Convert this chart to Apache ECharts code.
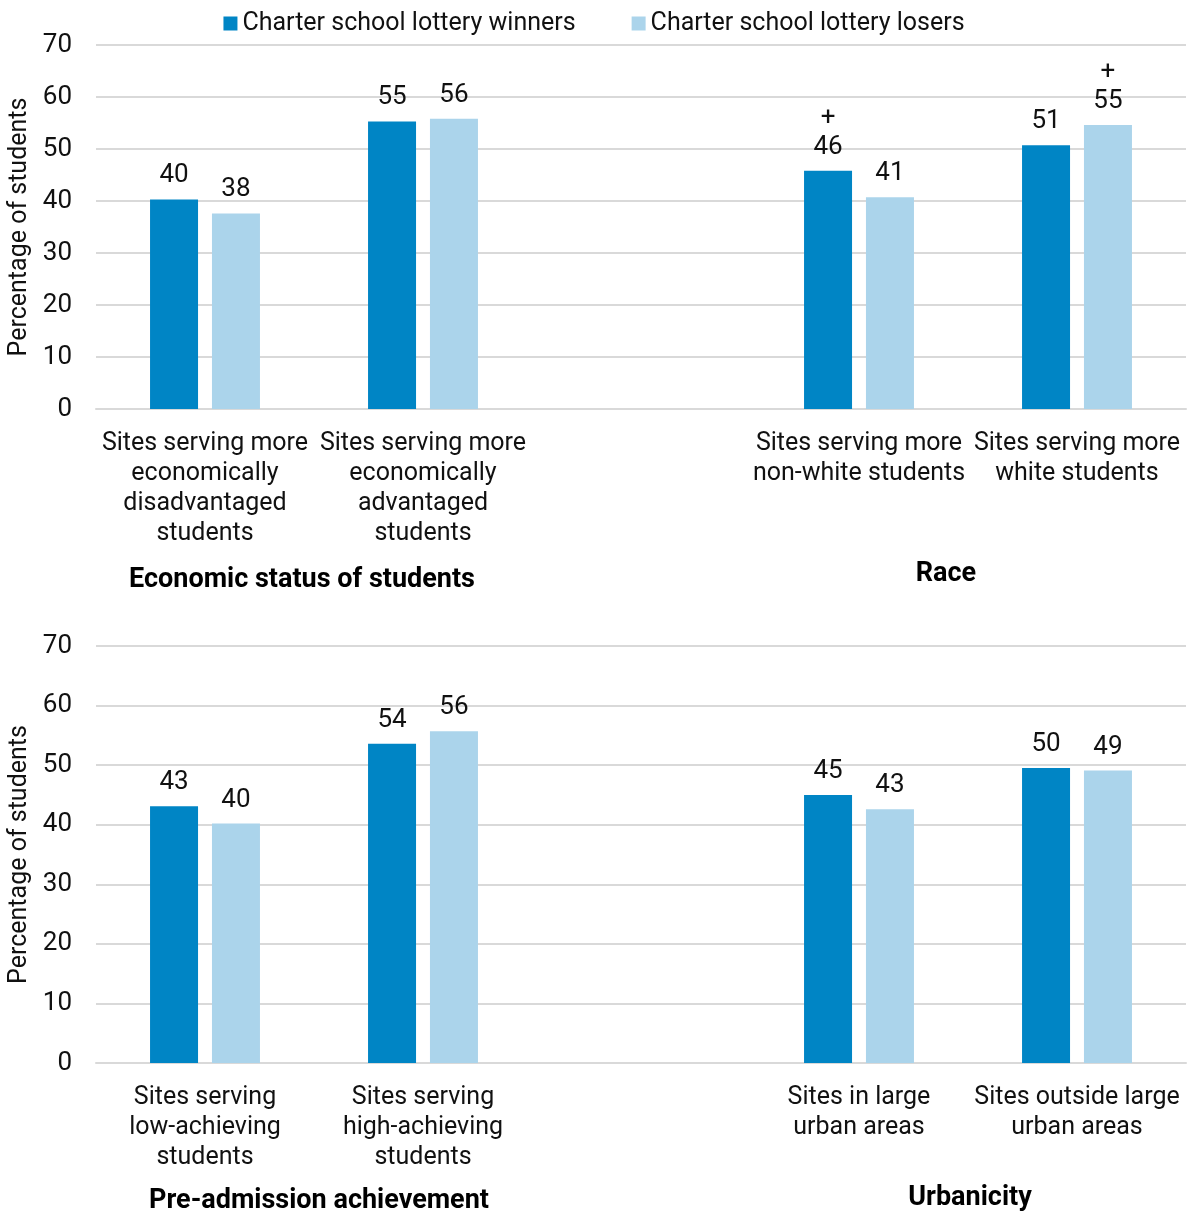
<!DOCTYPE html>
<html>
<head>
<meta charset="utf-8">
<script src="https://cdn.jsdelivr.net/npm/echarts@6/dist/echarts.min.js"></script>
<style>
html,body{margin:0;padding:0;background:#fff;}
#chart{width:1188px;height:1213px;}
</style>
</head>
<body>
<div id="chart"></div>
<script>
// ---- data ----
var seriesNames = ['Charter school lottery winners', 'Charter school lottery losers'];
var topCategories = [
  'Sites serving more\neconomically\ndisadvantaged\nstudents',
  'Sites serving more\neconomically\nadvantaged\nstudents',
  '',
  'Sites serving more\nnon-white students',
  'Sites serving more\nwhite students'
];
var topWinners = [40.3, 55.3, null, 45.8, 50.7];
var topLosers  = [37.6, 55.8, null, 40.7, 54.6];
var topWinnersLabels = ['40', '55', '', '46', '51'];
var topLosersLabels  = ['38', '56', '', '41', '55'];
var topWinnersSig = [false, false, false, true, false];
var topLosersSig  = [false, false, false, false, true];

var bottomCategories = [
  'Sites serving\nlow-achieving\nstudents',
  'Sites serving\nhigh-achieving\nstudents',
  '',
  'Sites in large\nurban areas',
  'Sites outside large\nurban areas'
];
var bottomWinners = [43.1, 53.6, null, 45.0, 49.5];
var bottomLosers  = [40.2, 55.7, null, 42.6, 49.1];
var bottomWinnersLabels = ['43', '54', '', '45', '50'];
var bottomLosersLabels  = ['40', '56', '', '43', '49'];
var bottomWinnersSig = [false, false, false, false, false];
var bottomLosersSig  = [false, false, false, false, false];

var groupTitlesTop = ['Economic status of students', 'Race'];
var groupTitlesBottom = ['Pre-admission achievement', 'Urbanicity'];
var yTicks = [0, 10, 20, 30, 40, 50, 60, 70];
var yAxisTitle = 'Percentage of students';

// ---- styling ----
var FONT = 'Roboto, "Noto Sans", sans-serif';
var C_WIN = '#0085C5';
var C_LOSE = '#ABD4EB';
var GRID_COLOR = '#D9D9D9';

var chart = echarts.init(document.getElementById('chart'), null, {renderer: 'canvas'});

function makeLabel(labels, sig) {
  return {
    show: true,
    position: 'top',
    distance: 9,
    color: '#111',
    fontFamily: FONT,
    fontSize: 26,
    lineHeight: 29,
    formatter: function (p) {
      var t = labels[p.dataIndex];
      return sig[p.dataIndex] ? '+\n' + t : t;
    }
  };
}

function makeX(gridIndex, cats) {
  return {
    type: 'category',
    gridIndex: gridIndex,
    data: cats,
    axisLine: {show: true, lineStyle: {color: GRID_COLOR, width: 2}},
    axisTick: {show: false},
    axisLabel: {
      interval: 0,
      color: '#111',
      fontFamily: FONT,
      fontSize: 25,
      lineHeight: 30,
      margin: 20
    }
  };
}

function makeY(gridIndex) {
  return {
    type: 'value',
    gridIndex: gridIndex,
    min: yTicks[0],
    max: yTicks[yTicks.length - 1],
    interval: yTicks[1] - yTicks[0],
    name: yAxisTitle,
    nameLocation: 'middle',
    nameGap: 64,
    nameTextStyle: {color: '#111', fontFamily: FONT, fontSize: 25},
    axisLine: {show: false},
    axisTick: {show: false},
    axisLabel: {color: '#111', fontFamily: FONT, fontSize: 26, margin: 24},
    splitLine: {show: true, lineStyle: {color: GRID_COLOR, width: 2}}
  };
}

function makeBar(name, idx, data, color, labels, sig) {
  return {
    name: name,
    type: 'bar',
    xAxisIndex: idx,
    yAxisIndex: idx,
    data: data,
    barWidth: 48,
    barGap: '29%',
    itemStyle: {color: color},
    label: makeLabel(labels, sig),
    emphasis: {disabled: true},
    animation: false
  };
}

var titleStyle = {fontFamily: FONT, fontSize: 27, fontWeight: 'bold', fill: '#000', align: 'center', verticalAlign: 'middle'};
function titleText(txt, x, y) {
  return {type: 'text', x: x, y: y, style: Object.assign({text: txt}, titleStyle)};
}

var option = {
  backgroundColor: '#fff',
  animation: false,
  textStyle: {fontFamily: FONT},
  legend: {
    top: 6,
    left: 'center',
    itemWidth: 14,
    itemHeight: 14,
    itemGap: 56,
    icon: 'rect',
    data: seriesNames,
    textStyle: {color: '#111', fontFamily: FONT, fontSize: 25}
  },
  grid: [
    {left: 96, right: 2, top: 45, height: 364, containLabel: false, outerBoundsMode: 'none'},
    {left: 96, right: 2, top: 646, height: 417, containLabel: false, outerBoundsMode: 'none'}
  ],
  xAxis: [makeX(0, topCategories), makeX(1, bottomCategories)],
  yAxis: [makeY(0), makeY(1)],
  series: [
    makeBar(seriesNames[0], 0, topWinners, C_WIN, topWinnersLabels, topWinnersSig),
    makeBar(seriesNames[1], 0, topLosers, C_LOSE, topLosersLabels, topLosersSig),
    makeBar(seriesNames[0], 1, bottomWinners, C_WIN, bottomWinnersLabels, bottomWinnersSig),
    makeBar(seriesNames[1], 1, bottomLosers, C_LOSE, bottomLosersLabels, bottomLosersSig)
  ],
  graphic: [
    titleText(groupTitlesTop[0], 302, 580),
    titleText(groupTitlesTop[1], 946, 574),
    titleText(groupTitlesBottom[0], 319, 1201),
    titleText(groupTitlesBottom[1], 970, 1198)
  ]
};
chart.setOption(option);
</script>
</body>
</html>
